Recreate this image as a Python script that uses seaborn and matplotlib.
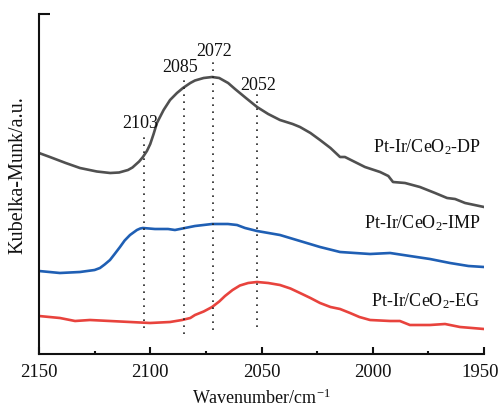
import matplotlib
matplotlib.use("Agg")
import matplotlib.pyplot as plt
import matplotlib.transforms as mtransforms
import seaborn as sns
import pandas as pd
from matplotlib.ticker import MultipleLocator

# DRIFTS spectra (Kubelka-Munk, offset for clarity)
wn_dp = [2150, 2145.1, 2138, 2131.6, 2124, 2118, 2114, 2110, 2108, 2105, 2103.3, 2101.5,
         2100, 2098.5, 2097.0, 2094, 2091.1, 2088, 2085.3, 2082, 2079.9, 2076, 2072.2, 2069,
         2065, 2061.9, 2057, 2052.0, 2047, 2041.7, 2036, 2032.7, 2028, 2023.7, 2019, 2014.7,
         2012.5, 2008, 2003.5, 1996.7, 1993, 1990.9, 1985.5, 1978.8, 1972, 1966.6, 1963.0,
         1958.5, 1950]
kh_dp = [201, 197, 191, 186, 182.5, 181, 181.5, 184, 186.5, 192.5, 197, 203,
         210, 220, 231, 244, 254, 261, 266, 271, 273.5, 276, 277, 276,
         271, 265, 256, 247, 240, 234, 230, 227, 221, 214, 206, 197,
         197, 192, 187, 182, 178, 172, 171, 167, 161, 156, 155,
         151, 147]

wn_imp = [2150, 2140.6, 2131.6, 2125, 2122.6, 2120.5, 2118.1, 2116, 2113.6, 2111.5, 2109.1,
          2106, 2104.5, 2103.3, 2097.9, 2092, 2088.9, 2084.4, 2079.9, 2072.2, 2065.1, 2061,
          2057.4, 2052.0, 2041.7, 2032.7, 2023.7, 2014.7, 2008, 2001.2, 1992.2, 1983.3,
          1974.3, 1965.3, 1957, 1950]
kh_imp = [83, 81, 82, 84, 86, 89.5, 94, 100, 107, 113.5, 119,
          124, 125.5, 126, 125, 125, 124, 126, 128, 130, 130, 129,
          126, 123, 119, 113, 107, 102, 101, 100, 101, 98,
          95, 91, 88, 87]

wn_eg = [2150, 2140.6, 2133.8, 2127.1, 2118.1, 2109.1, 2100.1, 2091.1, 2085.7, 2082, 2079.9,
         2076, 2072.2, 2069, 2066.4, 2063, 2059.7, 2056, 2052.0, 2047, 2041.7, 2037, 2032.7,
         2028, 2023.7, 2019, 2014.7, 2010.2, 2006, 2001.2, 1992.2, 1987.8, 1983.3, 1974.3,
         1967.5, 1960.8, 1950]
kh_eg = [38, 36, 33, 34, 33, 32, 31, 32, 34, 36, 39,
         42.5, 47, 52.5, 58, 64, 68.5, 71, 72, 71, 69, 65.5, 61,
         56, 51, 47, 45, 41, 37, 34, 33, 33, 29, 29,
         30, 27, 25]

sample_names = ["Pt-Ir/CeO$_2$-DP", "Pt-Ir/CeO$_2$-IMP", "Pt-Ir/CeO$_2$-EG"]
sample_colors = ["#505050", "#1f5fb4", "#e8433d"]
label_heights = [207, 131, 53]

peak_wn = [2103, 2085, 2072, 2052]
peak_top = [221, 277, 294, 262]
peak_bottom = [26, 20, 24, 27]
peak_label_wn = [2104.6, 2086.6, 2071.3, 2051.6]
peak_label_y = [231, 286, 302, 269]

frames = []
for name, wn, kh in zip(sample_names, [wn_dp, wn_imp, wn_eg], [kh_dp, kh_imp, kh_eg]):
    frames.append(pd.DataFrame({"wn": wn, "km": kh, "sample": name}))
df = pd.concat(frames, ignore_index=True)

sns.set_theme(style="ticks")
plt.rcParams["font.family"] = ["Liberation Serif", "DejaVu Serif"]
plt.rcParams["mathtext.fontset"] = "custom"
plt.rcParams["mathtext.rm"] = "Liberation Serif"
plt.rcParams["mathtext.it"] = "Liberation Serif:italic"

fig = plt.figure(figsize=(4.99, 4.08), dpi=100)
ax = fig.add_axes([39 / 499, 54 / 408, 445 / 499, 340 / 408])

sns.lineplot(data=df, x="wn", y="km", hue="sample", palette=sample_colors,
             hue_order=sample_names, sort=False, estimator=None,
             linewidth=1.9, legend=False, ax=ax)

for w, top, bot in zip(peak_wn, peak_top, peak_bottom):
    ax.plot([w, w], [bot, top], color="#222222", linewidth=1.2,
            linestyle=(0, (1, 3.2)))

for w, y, txt in zip(peak_label_wn, peak_label_y, peak_wn):
    ax.text(w, y, str(txt), ha="center", va="center", fontsize=13, color="#111111")

for name, y in zip(sample_names, label_heights):
    ax.text(1951.4, y, name, ha="right", va="center", fontsize=13, color="#111111")

ax.set_xlim(2150, 1950)
ax.set_ylim(0, 340)
ax.xaxis.set_major_locator(MultipleLocator(50))
ax.xaxis.set_minor_locator(MultipleLocator(25))
ax.set_yticks([340])
ax.set_yticklabels([])

for s in ["top", "right"]:
    ax.spines[s].set_visible(False)
for s in ["left", "bottom"]:
    ax.spines[s].set_linewidth(1.5)
    ax.spines[s].set_color("#111111")

ax.tick_params(axis="x", which="major", direction="in", length=5, width=1.5,
               color="#111111", labelsize=13.5, pad=7, labelcolor="#111111")
ax.tick_params(axis="x", which="minor", direction="in", length=2.2, width=1.5,
               color="#111111")
ax.tick_params(axis="y", which="major", direction="in", length=8, width=1.5,
               color="#111111")

ax.set_xlabel("Wavenumber/cm$^{-1}$", fontsize=13, color="#111111", labelpad=6)
ax.set_ylabel("Kubelka-Munk/a.u.", fontsize=14.5, color="#111111")
ax.yaxis.set_label_coords(-0.027, 0.526)

# keep the right-most tick label inside the canvas
fig.canvas.draw()
last = ax.xaxis.get_major_ticks()[-1]
for t in ax.xaxis.get_major_ticks():
    if abs(t.get_loc() - 1950) < 1e-6:
        last = t
last.label1.set_transform(last.label1.get_transform() +
                          mtransforms.ScaledTranslation(-4 / 100, 0, fig.dpi_scale_trans))

fig.savefig("out.png", dpi=100)
